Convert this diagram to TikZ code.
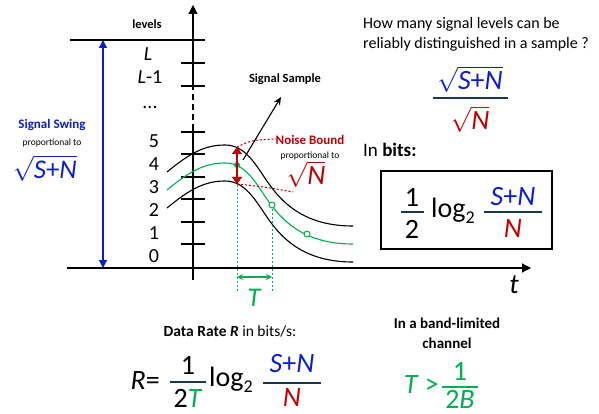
\documentclass[tikz,border=0pt]{standalone}
\usepackage{fontspec}
\setmainfont{Carlito}
\usepackage{amsmath}
\usetikzlibrary{arrows.meta}
\definecolor{myblue}{RGB}{10,30,205}
\definecolor{myred}{RGB}{192,0,0}
\definecolor{mygreen}{RGB}{0,176,80}
\definecolor{bardark}{RGB}{25,55,80}
\newcommand{\fs}[1]{\fontsize{#1}{#1}\selectfont}
\newcommand{\SN}{\textit{S}+\textit{N}}
\begin{document}
\begin{tikzpicture}[x=1pt,y=-1pt,
  axis/.style={line width=1.1pt},
  tick/.style={line width=1.1pt},
  curve/.style={line width=1.1pt},
  fbar/.style={line width=1.6pt,draw=bardark},
  lbl/.style={inner sep=0pt,font=\fs{20}},
  big/.style={inner sep=0pt,font=\fs{28}},
  small/.style={inner sep=0pt,font=\fs{9.5}},
  head/.style={inner sep=0pt,font=\bfseries\fs{13}}]
\useasboundingbox (0,0) rectangle (599,414);
% axes
\coordinate (yb) at (193,280);
\coordinate (yd1) at (193,130);
\coordinate (yd2) at (193,88);
\coordinate (yt) at (193,5);
\draw[axis] (yb) -- (yd1);
\draw[axis,dashed,dash pattern=on 6pt off 4pt] (yd1) -- (yd2);
\draw[axis,-{Triangle[length=9pt,width=9pt]}] (yd2) -- (yt);
\coordinate (xl) at (67,268);
\coordinate (xr) at (531,268);
\draw[axis,-{Triangle[length=9pt,width=9pt]}] (xl) -- (xr);
\node[inner sep=0pt,font=\itshape\fs{28}] (tlab) at (514,285) {t};
% top line
\coordinate (tl1) at (70,40);
\coordinate (tl2) at (205,40);
\draw[axis] (tl1) -- (tl2);
% ticks
\foreach \yy in {63,86,132,154,177,199,222,244}{
  \draw[tick] (181,\yy) -- (205,\yy);
}
% level labels
\node[lbl] (l0) at (154,256) {0};
\node[lbl] (l1) at (154,233) {1};
\node[lbl] (l2) at (154,210) {2};
\node[lbl] (l3) at (154,187) {3};
\node[lbl] (l4) at (154,164) {4};
\node[lbl] (l5) at (154,141) {5};
\node[lbl] (ld) at (150,107) {...};
\node[lbl] (lL1) at (150,77) {\textit{L}-1};
\node[lbl] (lL) at (148,54) {\textit{L}};
\node[inner sep=0pt,font=\bfseries\fs{12.5}] (levels) at (147,24) {levels};
% signal swing
\coordinate (sw1) at (103,40);
\coordinate (sw2) at (103,268);
\draw[myblue,line width=1.3pt,{Triangle[length=8pt,width=8pt]}-{Triangle[length=8pt,width=8pt]}] (sw1) -- (sw2);
\node[head,myblue] (swing) at (52,125) {Signal Swing};
\node[small] (prop1) at (52,143) {proportional to};
\node[inner sep=0pt,myblue,font=\fs{27}] (sqsn) at (45,168) {$\sqrt{\mbox{\SN}}$};
% curves
\def\sig{(167,172) .. controls (190,153) and (205,145) .. (225,145) .. controls (248,145) and (258,170) .. (272,188) .. controls (290,212) and (315,226) .. (353,226)}
\draw[curve] \sig;
\begin{scope}[shift={(0,36)}]
\draw[curve] \sig;
\end{scope}
\begin{scope}[shift={(0,18)}]
\draw[curve,mygreen] \sig;
\end{scope}
% sample points
\coordinate (s1) at (237,165);
\coordinate (s2) at (272,205);
\coordinate (s3) at (307,234);
\coordinate (s1b) at (237,292);
\coordinate (s2b) at (272,292);
\draw[mygreen,line width=1pt,dash pattern=on 2pt off 2pt] (s1) -- (s1b);
\draw[mygreen,line width=1pt,dash pattern=on 2pt off 2pt] (s2) -- (s2b);
\coordinate (ta) at (237,277);
\coordinate (tb) at (272,277);
\draw[mygreen,line width=1.3pt,{Stealth[length=6pt,width=6pt]}-{Stealth[length=6pt,width=6pt]}] (ta) -- (tb);
\node[inner sep=0pt,mygreen,font=\itshape\fs{27}] (Tlab) at (254,298) {T};
\fill[mygreen] (s1) circle (3pt);
\draw[mygreen,fill=white,line width=1pt] (s2) circle (3pt);
\draw[mygreen,fill=white,line width=1pt] (s3) circle (3pt);
% noise bound
\coordinate (na) at (237,147);
\coordinate (nb) at (237,184);
\draw[myred,line width=1.3pt,{Triangle[length=7pt,width=10pt]}-{Triangle[length=7pt,width=10pt]}] (na) -- (nb);
\coordinate (nd1) at (276,139);
\coordinate (nd2) at (293,192);
\draw[myred,line width=1pt,dash pattern=on 2pt off 2pt] (na) .. controls (252,140) .. (nd1);
\draw[myred,line width=1pt,dash pattern=on 2pt off 2pt] (nb) .. controls (265,187) .. (nd2);
\node[head,myred] (noise) at (310,140) {Noise Bound};
\node[small] (prop2) at (310,156) {proportional to};
\node[inner sep=0pt,myred,font=\fs{28}] (sqn) at (306,174) {$\sqrt{\mbox{\textit{N}}}$};
% signal sample
\coordinate (ss1) at (243,160);
\coordinate (ss2) at (281,97);
\draw[line width=1.1pt,-{Stealth[length=8pt,width=7pt]}] (ss1) -- (ss2);
\node[head,font=\bfseries\fs{12.5}] (sample) at (285,79) {Signal Sample};
% right question
\node[inner sep=0pt,anchor=west,font=\fs{16}] (q1) at (363,24) {How many signal levels can be};
\node[inner sep=0pt,anchor=west,font=\fs{16}] (q2) at (363,44) {reliably distinguished in a sample ?};
\node[inner sep=0pt,myblue,font=\fs{28}] (f1n) at (470,79) {$\sqrt{\mbox{\SN}}$};
\draw[fbar] (433,98) -- (508,98);
\node[inner sep=0pt,myred,font=\fs{28}] (f1d) at (470,119) {$\sqrt{\mbox{\textit{N}}}$};
\node[inner sep=0pt,anchor=west,font=\fs{19}] (inbits) at (363,150) {In \textbf{bits:}};
% box formula
\node[draw,line width=1.1pt,minimum width=171pt,minimum height=78pt,inner sep=0pt] (box) at (466.5,210) {};
\node[big] (b1) at (412,197) {1};
\draw[fbar] (401,212) -- (424,212);
\node[big] (b2) at (412,229) {2};
\node[big,anchor=west] (blog) at (431,211) {log\raisebox{-0.22em}{\fs{18}2}};
\node[big,myblue] (bsn) at (513,197) {\SN};
\draw[fbar] (484,212) -- (542,212);
\node[big,myred] (bn) at (513,229) {\textit{N}};
% data rate
\node[inner sep=0pt,font=\fs{15.5}] (dr) at (230,331) {\textbf{Data Rate \textit{R}} in bits/s:};
\node[big,anchor=east] (rr) at (160,381) {\textit{R}=};
\node[big] (r1) at (188,365) {1};
\draw[fbar] (170,382) -- (206,382);
\node[big] (r2) at (188,398) {2\textcolor{mygreen}{\textit{T}}};
\node[big,anchor=west] (rlog) at (209,380) {log\raisebox{-0.22em}{\fs{18}2}};
\node[big,myblue] (rsn) at (292,364) {\SN};
\draw[fbar] (263,383) -- (321,383);
\node[big,myred] (rn) at (292,398) {\textit{N}};
% band limited
\node[inner sep=0pt,font=\bfseries\fs{15}] (bl1) at (447,323) {In a band-limited};
\node[inner sep=0pt,font=\bfseries\fs{15}] (bl2) at (447,343) {channel};
\node[big,mygreen,anchor=east] (tg) at (439,385) {\textit{T} >};
\node[big,mygreen] (t1) at (460,371) {1};
\draw[mygreen,line width=1.6pt] (442,387) -- (478,387);
\node[big,mygreen] (t2) at (460,399) {2\textit{B}};
\end{tikzpicture}
\end{document}
